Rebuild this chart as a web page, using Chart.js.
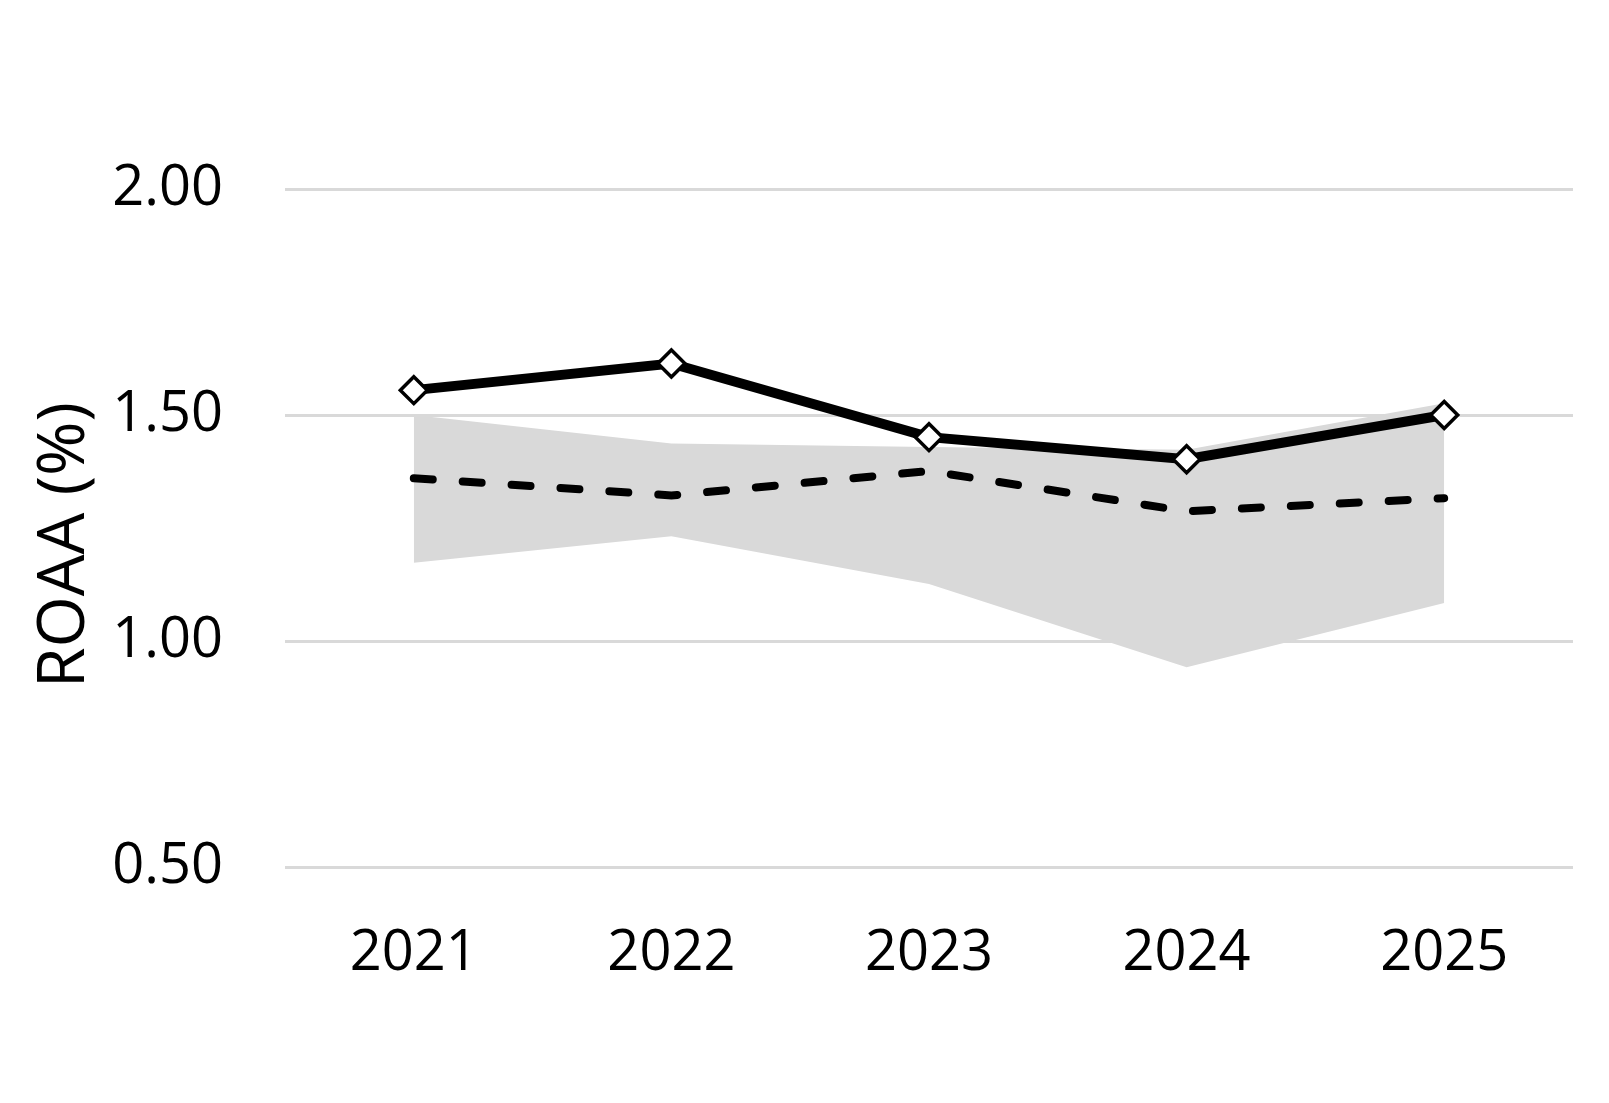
<!DOCTYPE html>
<html lang="en">
<head>
    <meta charset="UTF-8">
    <title>ROAA (%)</title>
    <style>
        body {
            margin: 0;
            background-color: #ffffff;
        }
        #chart {
            display: block;
        }
    </style>
</head>
<body>
    <canvas id="chart" width="1609" height="1103"></canvas>

    <script src="https://cdn.jsdelivr.net/npm/chart.js"></script>

    <script>
        // chart values
        const years = ['2021', '2022', '2023', '2024', '2025'];
        const bankRoaa = [1.555, 1.614, 1.451, 1.402, 1.500];
        const peerMedian = [1.360, 1.322, 1.376, 1.287, 1.316];
        const peerHigh = [1.500, 1.437, 1.429, 1.423, 1.526];
        const peerLow = [1.173, 1.232, 1.126, 0.942, 1.084];
        const yTicks = [0.5, 1.0, 1.5, 2.0];

        const fontFamily = "'Open Sans', 'Noto Sans', sans-serif";

        new Chart(document.getElementById('chart'), {
            type: 'line',
            data: {
                labels: years,
                datasets: [
                    {
                        label: 'ROAA',
                        data: bankRoaa,
                        borderColor: '#000000',
                        borderWidth: 10,
                        pointStyle: 'rectRot',
                        pointRadius: 13.5,
                        pointBorderWidth: 3.5,
                        pointBackgroundColor: '#ffffff',
                        pointBorderColor: '#000000',
                        fill: false,
                        tension: 0
                    },
                    {
                        label: 'Peer median',
                        data: peerMedian,
                        borderColor: '#000000',
                        borderWidth: 8,
                        borderDash: [19, 30],
                        borderCapStyle: 'round',
                        pointRadius: 0,
                        fill: false,
                        tension: 0
                    },
                    {
                        label: 'Peer high',
                        data: peerHigh,
                        borderWidth: 0,
                        borderColor: 'rgba(0,0,0,0)',
                        backgroundColor: '#d9d9d9',
                        pointRadius: 0,
                        fill: '+1',
                        tension: 0
                    },
                    {
                        label: 'Peer low',
                        data: peerLow,
                        borderWidth: 0,
                        borderColor: 'rgba(0,0,0,0)',
                        pointRadius: 0,
                        fill: false,
                        tension: 0
                    }
                ]
            },
            options: {
                responsive: false,
                animation: false,
                devicePixelRatio: 1,
                layout: {
                    padding: { top: 189, right: 36, bottom: 0, left: 0 }
                },
                plugins: {
                    legend: { display: false },
                    tooltip: { enabled: false }
                },
                scales: {
                    x: {
                        offset: true,
                        grid: { display: false },
                        border: { display: false },
                        ticks: {
                            color: '#000000',
                            padding: 45,
                            maxRotation: 0,
                            font: { family: fontFamily, size: 56 }
                        },
                        afterFit: (scale) => { scale.height = 236; }
                    },
                    y: {
                        min: 0.5,
                        max: 2.0,
                        border: { display: false },
                        grid: {
                            color: '#d9d9d9',
                            lineWidth: 3,
                            drawTicks: false
                        },
                        afterBuildTicks: (scale) => {
                            scale.ticks = yTicks.map(v => ({ value: v }));
                        },
                        ticks: {
                            color: '#000000',
                            padding: 62,
                            font: { family: fontFamily, size: 56 },
                            callback: (value) => Number(value).toFixed(2)
                        },
                        title: {
                            display: true,
                            // trailing spaces nudge the rotated title down like the original
                            text: 'ROAA (%)\u00a0\u00a0',
                            color: '#000000',
                            padding: { top: 26, bottom: 0 },
                            font: { family: fontFamily, size: 66 }
                        },
                        afterFit: (scale) => { scale.width = 285; }
                    }
                }
            }
        });
    </script>
</body>
</html>
